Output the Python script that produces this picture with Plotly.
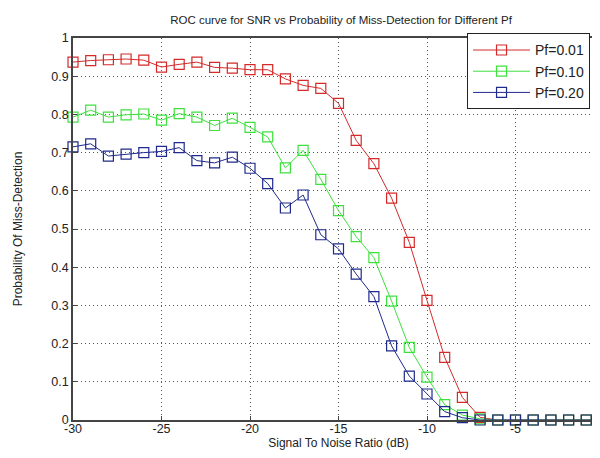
import plotly.graph_objects as go

snr = list(range(-30, 1))

pf001 = [0.937, 0.941, 0.943, 0.945, 0.942, 0.924, 0.931, 0.937, 0.923, 0.921,
         0.917, 0.917, 0.893, 0.876, 0.868, 0.829, 0.732, 0.671, 0.581, 0.465,
         0.313, 0.164, 0.059, 0.007, 0.0, 0.0, 0.0, 0.0, 0.0, 0.0, 0.0]
pf010 = [0.793, 0.811, 0.793, 0.799, 0.801, 0.785, 0.802, 0.793, 0.771, 0.790,
         0.766, 0.741, 0.660, 0.706, 0.630, 0.548, 0.480, 0.425, 0.311, 0.190,
         0.112, 0.040, 0.013, 0.003, 0.0, 0.0, 0.0, 0.0, 0.0, 0.0, 0.0]
pf020 = [0.715, 0.723, 0.691, 0.696, 0.700, 0.703, 0.713, 0.679, 0.673, 0.688,
         0.659, 0.619, 0.555, 0.589, 0.485, 0.448, 0.382, 0.323, 0.194, 0.115,
         0.068, 0.022, 0.006, 0.0, 0.0, 0.0, 0.0, 0.0, 0.0, 0.0, 0.0]

series = [("Pf=0.01", pf001, "#d42a2a"),
          ("Pf=0.10", pf010, "#3ee03e"),
          ("Pf=0.20", pf020, "#1f2a8c")]

xticks = [-30, -25, -20, -15, -10, -5, 0]
yticks = [0, 0.1, 0.2, 0.3, 0.4, 0.5, 0.6, 0.7, 0.8, 0.9, 1]
ylabels = ["0", "0.1", "0.2", "0.3", "0.4", "0.5", "0.6", "0.7", "0.8", "0.9", "1"]

fig = go.Figure()
for name, vals, col in series:
    fig.add_trace(go.Scatter(
        x=snr, y=vals, name=name, mode="lines+markers",
        line=dict(color=col, width=1),
        marker=dict(symbol="square-open", size=10, color=col, line=dict(width=1.2, color=col)),
        cliponaxis=False,
    ))

font = "Liberation Sans, Arial, sans-serif"
fig.update_layout(
    width=600, height=458,
    margin=dict(l=65, r=0, t=30, b=46),
    paper_bgcolor="white", plot_bgcolor="white",
    font=dict(family=font, size=12, color="#222222"),
    title=dict(text="ROC curve for SNR vs Probability of Miss-Detection for Different Pf",
               x=333 / 600, xanchor="center", y=1 - 12 / 458, yanchor="middle",
               font=dict(size=11.5, color="#222222")),
    legend=dict(x=(462 - 65) / 535, xanchor="left", y=1.012, yanchor="top",
                bgcolor="white", bordercolor="#222222", borderwidth=1,
                font=dict(size=14, color="#222222"),
                itemwidth=57, tracegroupgap=0),
    showlegend=True,
)
fig.update_xaxes(
    range=[-30, 0], tickvals=xticks, ticktext=[str(v) for v in xticks],
    showgrid=True, gridcolor="#555555", griddash="1px,3px", gridwidth=1,
    showline=True, linecolor="#444444", linewidth=1.5, mirror=True,
    ticks="inside", ticklen=4, tickcolor="#444444",
    zeroline=False, tickfont=dict(size=12.5), ticklabeloverflow="allow",
    ticklabelstandoff=-4,
    title=dict(text="Signal To Noise Ratio (dB)", font=dict(size=12), standoff=2),
)
fig.update_yaxes(
    range=[0, 1], tickvals=yticks, ticktext=ylabels,
    showgrid=True, gridcolor="#555555", griddash="1px,3px", gridwidth=1,
    showline=True, linecolor="#444444", linewidth=1.5, mirror=True,
    ticks="inside", ticklen=4, tickcolor="#444444",
    zeroline=False, tickfont=dict(size=12.5),
    title=dict(text="Probability Of Miss-Detection", font=dict(size=12), standoff=26),
)

fig.write_html("out.html")
